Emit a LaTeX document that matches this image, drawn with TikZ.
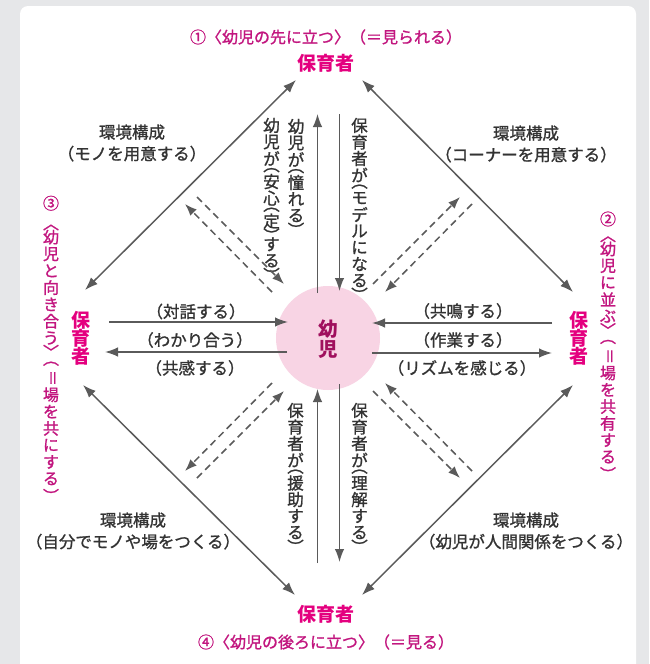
\documentclass[tikz,border=0pt]{standalone}
\usepackage{fontspec}
\usepackage{graphicx}
\setmainfont{Noto Sans CJK JP}[UprightFeatures={FakeBold=1.2}]
\newfontfamily\jpH{Noto Sans CJK JP}[RawFeature=+halt, FakeBold=1.2]
\usetikzlibrary{arrows.meta}
\definecolor{bggray}{HTML}{E6E7E9}
\definecolor{linegray}{HTML}{5A5A5A}
\definecolor{txt}{HTML}{333333}
\definecolor{mag}{HTML}{E4007F}
\definecolor{magt}{HTML}{C2167F}
\definecolor{magd}{HTML}{A0105E}
\definecolor{pinkc}{HTML}{F8D4E4}

\newlength\vtpitch
\newlength\vtparen
\newlength\vtbrack
\newlength\vtnum
\newcommand\vsetup[4]{\setlength\vtpitch{#1em}\setlength\vtparen{#2em}\setlength\vtbrack{#3em}\setlength\vtnum{#4em}}
\newcommand\vslot[2]{\vbox to #1{\vss\hbox to 1em{\hss#2\hss}\vss}}

\ExplSyntaxOn
\cs_new_protected:Npn \__vt_char:n #1
  {
    \str_case:nnF {#1}
      {
        {（}{\vslot{\vtparen}{\rotatebox[origin=c]{-90}{\jpH{}（}}}
        {）}{\vslot{\vtparen}{\rotatebox[origin=c]{-90}{\jpH{}）}}}
        {〈}{\vslot{\vtbrack}{\rotatebox[origin=c]{-90}{〈}}}
        {〉}{\vslot{\vtbrack}{\rotatebox[origin=c]{-90}{〉}}}
        {＝}{\vslot{\vtpitch}{\rotatebox[origin=c]{-90}{＝}}}
        {②}{\vslot{\vtnum}{②}}
        {③}{\vslot{\vtnum}{③}}
      }
      { \vslot{\vtpitch}{#1} }
  }
\NewDocumentCommand\vtext{m}
  { \vbox{\offinterlineskip \tl_map_function:nN {#1} \__vt_char:n } }
\ExplSyntaxOff

\begin{document}
\begin{tikzpicture}[x=1pt,y=-1pt,
  arr/.style={draw=linegray, line width=1.5pt, -{Latex[length=13pt,width=9.5pt]}},
  arrboth/.style={draw=linegray, line width=1.5pt, {Latex[length=13pt,width=9.5pt]}-{Latex[length=13pt,width=9.5pt]}},
  darr/.style={draw=linegray, line width=1.5pt, dash pattern=on 7pt off 4.5pt, -{Latex[length=12pt,width=9pt]}},
  hlabel/.style={inner sep=0pt, text=txt, font=\jpH\fontsize{16.5}{21.5}\selectfont, align=center},
  vlabel/.style={inner sep=0pt, anchor=north, text=txt, font=\fontsize{16.5}{16.5}\selectfont},
  hoiku/.style={inner sep=0pt, text=mag, font=\bfseries\fontsize{19}{19}\selectfont},
  ttl/.style={inner sep=0pt, text=magt, font=\fontsize{16}{16}\selectfont},
]
\useasboundingbox (0,0) rectangle (649,664);
\clip (0,0) rectangle (649,664);
\fill[bggray] (0,0) rectangle (649,664);
\fill[white, rounded corners=8pt] (20,6) rectangle (636,700);

% centre
\node[circle, fill=pinkc, minimum size=104pt, inner sep=0pt] (ccirc) at (328,338) {};
\node[inner sep=0pt, text=magd, font=\bfseries\fontsize{19.5}{19.5}\selectfont] (child) at (328,339)
  {\vsetup{1.05}{0.5}{1}{1}\vtext{幼児}};

% caregivers
\node[hoiku] (ptop) at (326,63) {保育者};
\node[hoiku] (pbot) at (326,614) {保育者};
\node[hoiku] (pleft) at (81,338) {\vsetup{0.95}{0.5}{1}{1}\vtext{保育者}};
\node[hoiku] (pright) at (579,338) {\vsetup{0.95}{0.5}{1}{1}\vtext{保育者}};

% titles
\node[ttl] (ttop) at (326,37) {①〈幼児の先に立つ〉（＝見られる）};
\node[ttl] (tbot) at (326,642) {④〈幼児の後ろに立つ〉（＝見る）};
\node[ttl] (tleft) at (51,344) {\vsetup{1.05}{0.75}{0.7}{1.8}\vtext{③〈幼児と向き合う〉（＝場を共にする）}};
\node[ttl] (tright) at (608,343) {\vsetup{1.05}{0.75}{0.7}{1.3}\vtext{②〈幼児に並ぶ〉（＝場を共有する）}};

% environment labels
\node[hlabel] (envtl) at (132,143) {環境構成\\（モノを用意する）};
\node[hlabel] (envtr) at (526,144) {環境構成\\（コーナーを用意する）};
\node[hlabel] (envbl) at (133,531) {環境構成\\（自分でモノや場をつくる）};
\node[hlabel] (envbr) at (526,531) {環境構成\\（幼児が人間関係をつくる）};

% horizontal labels
\node[hlabel] (ltaiwa) at (196,311.5) {（対話する）};
\node[hlabel] (lwakari) at (195,340) {（わかり合う）};
\node[hlabel] (lkyokan) at (195,368) {（共感する）};
\node[hlabel] (rkyomei) at (463,311) {（共鳴する）};
\node[hlabel] (rsagyo) at (463,340) {（作業する）};
\node[hlabel] (rrizumu) at (462,368) {（リズムを感じる）};

% vertical labels
\node[vlabel] (vakog) at (296,118) {\vsetup{1}{0.4}{1}{1}\vtext{幼児が（憧れる）}};
\node[vlabel] (vansh) at (271.5,117) {\vsetup{1}{0.4}{1}{1}\vtext{幼児が（安心（定）する）}};
\node[vlabel] (vmodel) at (359.5,117) {\vsetup{1}{0.4}{1}{1}\vtext{保育者が（モデルになる）}};
\node[vlabel] (venjo) at (295.5,402) {\vsetup{1}{0.4}{1}{1}\vtext{保育者が（援助する）}};
\node[vlabel] (vrikai) at (359.5,402) {\vsetup{1}{0.4}{1}{1}\vtext{保育者が（理解する）}};

% coordinates for connectors
\coordinate (dtl1) at (296,80);  \coordinate (dtl2) at (85,290);
\coordinate (dtr1) at (362,80);  \coordinate (dtr2) at (573,292);
\coordinate (dbl1) at (83,385);  \coordinate (dbl2) at (295,595);
\coordinate (dbr1) at (573,385); \coordinate (dbr2) at (362,595);

\coordinate (vu1a) at (317.5,293); \coordinate (vu1b) at (317.5,114);
\coordinate (vd1a) at (339.5,114); \coordinate (vd1b) at (339.5,291);
\coordinate (vu2a) at (317.5,563); \coordinate (vu2b) at (317.5,389);
\coordinate (vd2a) at (339.5,384); \coordinate (vd2b) at (339.5,562);

\coordinate (hl1a) at (109,322); \coordinate (hl1b) at (288,322);
\coordinate (hl2a) at (287,352); \coordinate (hl2b) at (105,352);
\coordinate (hr1a) at (552,323); \coordinate (hr1b) at (372,323);
\coordinate (hr2a) at (372,353); \coordinate (hr2b) at (552,353);

\coordinate (qa1) at (197,197); \coordinate (qa2) at (284,284);
\coordinate (qb1) at (272,292); \coordinate (qb2) at (185,204);
\coordinate (qc1) at (373,284); \coordinate (qc2) at (460,197);
\coordinate (qd1) at (472,204); \coordinate (qd2) at (385,292);
\coordinate (qe1) at (272,383); \coordinate (qe2) at (185,471);
\coordinate (qf1) at (197,478); \coordinate (qf2) at (284,391);
\coordinate (qg1) at (373,391); \coordinate (qg2) at (460,478);
\coordinate (qh1) at (472,471); \coordinate (qh2) at (385,383);

% diagonals
\draw[arrboth] (dtl1) -- (dtl2);
\draw[arrboth] (dtr1) -- (dtr2);
\draw[arrboth] (dbl1) -- (dbl2);
\draw[arrboth] (dbr1) -- (dbr2);

% verticals
\draw[arr] (vu1a) -- (vu1b);
\draw[arr] (vd1a) -- (vd1b);
\draw[arr] (vu2a) -- (vu2b);
\draw[arr] (vd2a) -- (vd2b);

% horizontals
\draw[arr] (hl1a) -- (hl1b);
\draw[arr] (hl2a) -- (hl2b);
\draw[arr] (hr1a) -- (hr1b);
\draw[arr] (hr2a) -- (hr2b);

% dashed pairs
\draw[darr] (qa1) -- (qa2);
\draw[darr] (qb1) -- (qb2);
\draw[darr] (qc1) -- (qc2);
\draw[darr] (qd1) -- (qd2);
\draw[darr] (qe1) -- (qe2);
\draw[darr] (qf1) -- (qf2);
\draw[darr] (qg1) -- (qg2);
\draw[darr] (qh1) -- (qh2);
\end{tikzpicture}
\end{document}
